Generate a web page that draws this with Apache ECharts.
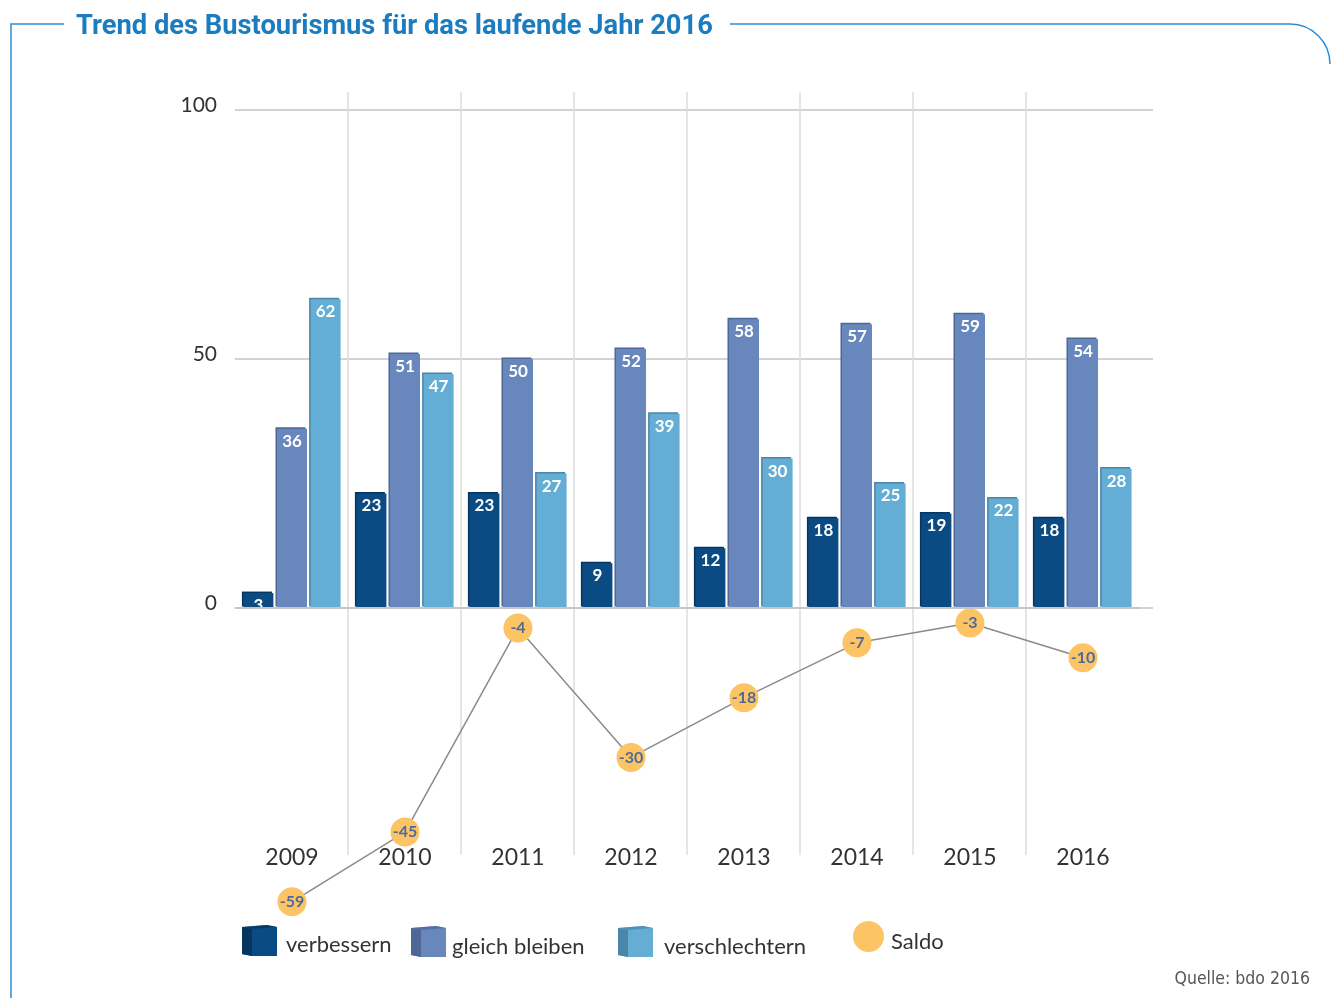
<!DOCTYPE html>
<html>
<head>
<meta charset="utf-8">
<script src="https://cdn.jsdelivr.net/npm/echarts@6/dist/echarts.min.js"></script>
<style>html,body{margin:0;padding:0;background:#fff;}#c{width:1331px;height:998px;}</style>
</head>
<body>
<div id="c"></div>
<script>
const years = ['2009','2010','2011','2012','2013','2014','2015','2016'];
const verbessern = [3, 23, 23, 9, 12, 18, 19, 18];
const gleichBleiben = [36, 51, 50, 52, 58, 57, 59, 54];
const verschlechtern = [62, 47, 27, 39, 30, 25, 22, 28];
const saldo = [-59, -45, -4, -30, -18, -7, -3, -10];
const yTicks = [0, 50, 100];

const C_DARK = '#0b4b84', C_MID = '#6887bd', C_LIGHT = '#64aed6', C_SALDO = '#fdc466';
const S_DARK = '#06365f', S_MID = '#4d6796', S_LIGHT = '#4a86a8';
const chart = echarts.init(document.getElementById('c'));

function barSeries(name, data, color, shadow) {
  return {
    name, type: 'bar', data, xAxisIndex: 2, yAxisIndex: 2,
    barWidth: 30, barGap: '12%',
    itemStyle: { color, shadowColor: shadow, shadowOffsetX: -1.5, shadowOffsetY: -1.5, shadowBlur: 0 },
    label: { show: true, position: 'insideTop', distance: 4, color: '#fff', fontFamily: 'Lato', fontWeight: 'bold', fontSize: 17 },
    z: 3
  };
}
const cubeIcon = 'path://M0,2 L25,0 L35,2 L35,31 L10,31 L0,29 Z';
function legendAt(name, left, top, icon, w, h, padTop, padLeft) {
  return {
    data: [{ name, icon }], left, top, padding: 0, itemWidth: w, itemHeight: h, orient: 'horizontal',
    selectedMode: false,
    formatter: '{t|{name}}',
    textStyle: {
      fontFamily: 'Lato', fontSize: 22, color: '#333',
      rich: { t: { fontFamily: 'Lato', fontSize: 22, color: '#333', padding: [padTop, 0, 0, padLeft] } }
    }
  };
}
function cubeFaces(x, y, side) {
  return [
    { type: 'polygon', shape: { points: [[x, y + 2], [x + 10, y + 4], [x + 10, y + 31], [x, y + 29]] }, style: { fill: side }, z: 100 },
    { type: 'polygon', shape: { points: [[x, y + 2], [x + 25, y], [x + 35, y + 2], [x + 10, y + 4]] }, style: { fill: side, opacity: 0.75 }, z: 100 }
  ];
}

chart.setOption({
  animation: false,
  title: {
    text: 'Trend des Bustourismus für das laufende Jahr 2016', left: 76, top: 14, padding: 0,
    textStyle: { fontFamily: 'Roboto', fontWeight: 'bold', fontSize: 27.3, color: '#1b7dc0' }
  },
  legend: [
    legendAt('verbessern', 242, 925, cubeIcon, 35, 31, 9, 4),
    legendAt('gleich bleiben', 411, 926, cubeIcon, 35, 31, 10, 1),
    legendAt('verschlechtern', 618, 926, cubeIcon, 35, 31, 10, 6),
    legendAt('Saldo', 853, 921, 'circle', 31, 32, 10, 2)
  ],
  grid: [
    { left: 235, right: 178, top: 110, bottom: 390 },
    { left: 234.5, right: 192.5, top: 92, bottom: 143 },
    { left: 235.5, right: 191.5, top: 110, bottom: 390 }
  ],
  xAxis: [
    { gridIndex: 0, type: 'value', show: false },
    { gridIndex: 1, type: 'value', min: 0, max: years.length, interval: 1,
      axisLine: { show: false }, axisTick: { show: false }, axisLabel: { show: false },
      splitLine: { show: true, showMinLine: false, showMaxLine: false, lineStyle: { color: '#dcdcdc', width: 1.5 } } },
    { gridIndex: 2, type: 'category', data: years,
      axisLine: { show: true, lineStyle: { color: '#c6c6c6', width: 2 } }, axisTick: { show: false },
      axisLabel: { margin: 238, fontFamily: 'Lato', fontSize: 23, color: '#333' },
      splitLine: { show: false }, z: 10 }
  ],
  yAxis: [
    { gridIndex: 0, type: 'value', min: yTicks[0], max: yTicks[yTicks.length - 1], interval: 50,
      axisLine: { show: false }, axisTick: { show: false },
      axisLabel: { margin: 18, fontFamily: 'Lato', fontSize: 21, color: '#333', verticalAlign: 'bottom', lineHeight: 10 },
      splitLine: { show: true, lineStyle: { color: '#d3d3d3', width: 2 } } },
    { gridIndex: 1, type: 'value', show: false, splitLine: { show: false } },
    { gridIndex: 2, type: 'value', min: 0, max: 100, show: false, splitLine: { show: false } }
  ],
  series: [
    barSeries('verbessern', verbessern, C_DARK, S_DARK),
    barSeries('gleich bleiben', gleichBleiben, C_MID, S_MID),
    barSeries('verschlechtern', verschlechtern, C_LIGHT, S_LIGHT),
    {
      name: 'Saldo', type: 'line', data: saldo, xAxisIndex: 2, yAxisIndex: 2, clip: false,
      symbol: 'circle', symbolSize: 29,
      lineStyle: { color: '#8a8a8a', width: 1.5 },
      itemStyle: { color: C_SALDO },
      label: { show: true, position: 'inside', color: '#4d6a98', fontFamily: 'Lato', fontWeight: 'bold', fontSize: 16 },
      z: 5
    }
  ],
  graphic: [
    { type: 'polyline', shape: { points: [[64, 24], [11, 24], [11, 998]] }, style: { stroke: '#2b8ed0', lineWidth: 1.5, fill: null } },
    { type: 'polyline', shape: { points: [[730, 24], [1290, 24]] }, style: { stroke: '#2b8ed0', lineWidth: 1.5, fill: null } },
    { type: 'arc', shape: { cx: 1290, cy: 64, r: 40, startAngle: -Math.PI / 2, endAngle: 0 }, style: { stroke: '#2b8ed0', lineWidth: 1.5, fill: null } },
    ...cubeFaces(242, 925, S_DARK),
    ...cubeFaces(411, 926, S_MID),
    ...cubeFaces(618, 926, S_LIGHT),
    { type: 'text', right: 21, top: 970, style: { text: 'Quelle: bdo 2016', font: '17.5px "DejaVu Sans Condensed", "Roboto"', fill: '#555' } }
  ]
});
</script>
</body>
</html>
